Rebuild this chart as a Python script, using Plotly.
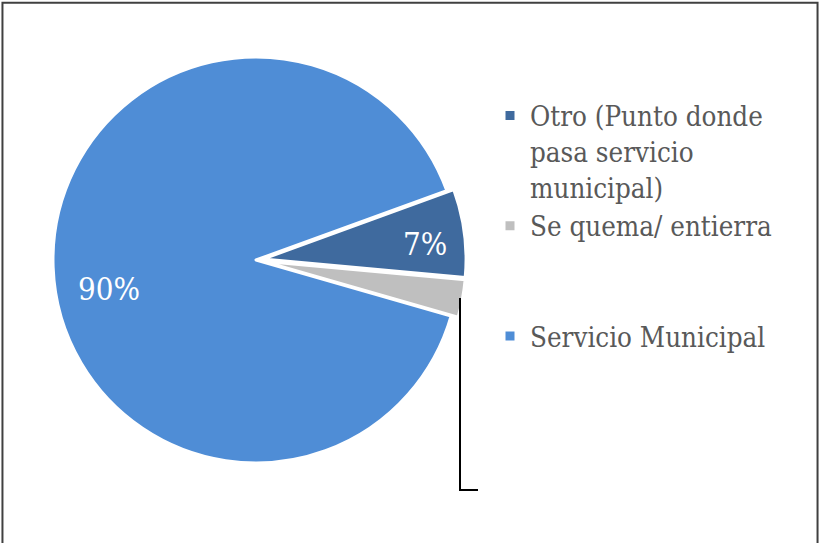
import math
import plotly.graph_objects as go

# Slice data, in drawing order (clockwise from the top edge of "Otro")
labels = [
    "Otro (Punto donde<br>pasa servicio<br>municipal)",
    "Se quema/ entierra<br> <br> ",
    "Servicio Municipal",
]
values = [7, 3, 90]
slice_text = ["7%", "", "90%"]
colors = ["#3F6A9E", "#BFBFBF", "#4F8DD6"]
pulls = [0.035, 0.035, 0]

W, H = 820, 543
cx, cy, R = 256, 260, 203  # pie centre / radius in px
start_deg = 20  # math angle of the first slice edge
SERIF = "DejaVu Serif Condensed, DejaVu Serif, serif"

# label placement: fraction of radius and angular nudge (deg) per slice
text_radius = [0.80, 0.0, 0.74]
text_nudge = [-2, 0, 9]

pmax = max(pulls)
half = R * (1 + pmax)

fig = go.Figure()

fig.add_trace(go.Pie(
    labels=labels,
    values=values,
    textinfo="none",
    marker=dict(colors=colors, line=dict(color="white", width=3)),
    pull=pulls,
    sort=False,
    direction="clockwise",
    rotation=90 - start_deg,
    domain=dict(x=[(cx - half) / W, (cx + half) / W],
                y=[(H - cy - half) / H, (H - cy + half) / H]),
    hoverinfo="label+percent",
))

# slice labels placed along each slice's bisector
total = sum(values)
acc = 0
for v, t, rf, nd, p in zip(values, slice_text, text_radius, text_nudge, pulls):
    mid = start_deg - 360 * (acc + v / 2) / total
    acc += v
    if not t:
        continue
    a = math.radians(mid + nd)
    d = R * (rf + p)
    fig.add_annotation(
        x=(cx + d * math.cos(a)) / W, y=(H - cy + d * math.sin(a)) / H,
        xref="paper", yref="paper", text=t, showarrow=False,
        xanchor="center", yanchor="middle",
        font=dict(family=SERIF, size=31, color="white"),
    )

# leader line for the small grey slice
fig.add_shape(
    type="path",
    path=f"M {460 / W},{1 - 298 / H} L {460 / W},{1 - 490 / H} L {478 / W},{1 - 490 / H}",
    xref="paper", yref="paper",
    line=dict(color="black", width=2),
)

# outer frame
fig.add_shape(
    type="rect", xref="paper", yref="paper",
    x0=0.003, y0=-0.02, x1=0.997, y1=0.995,
    line=dict(color="#404040", width=2),
)

fig.update_layout(
    width=W,
    height=H,
    margin=dict(l=0, r=0, t=0, b=0),
    paper_bgcolor="white",
    plot_bgcolor="white",
    showlegend=True,
    legend=dict(
        x=490 / W, xanchor="left",
        y=1 - 91 / H, yanchor="top",
        valign="top",
        font=dict(family=SERIF, size=27.5, color="#595959"),
        bgcolor="rgba(0,0,0,0)",
    ),
)

fig.write_html("out.html", config={"displayModeBar": False},
               post_script="document.body.style.margin='0';")
